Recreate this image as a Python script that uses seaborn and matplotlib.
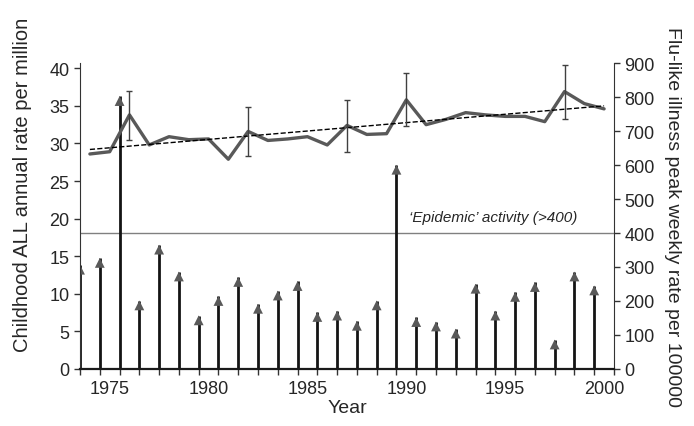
import numpy as np
import pandas as pd
import matplotlib
matplotlib.use("Agg")
import matplotlib.pyplot as plt
from matplotlib.transforms import offset_copy
import seaborn as sns

# --- data ---
years = list(range(1974, 2001))
all_rate = [28.6, 28.9, 33.8, 29.8, 30.9, 30.5, 30.6, 27.9, 31.6, 30.4,
            30.6, 30.9, 29.8, 32.4, 31.2, 31.3, 35.8, 32.5, 33.2, 34.1,
            33.8, 33.6, 33.6, 32.9, 36.9, 35.3, 34.6]

ci_years = [1976, 1982, 1987, 1990, 1998]
ci_low = [30.4, 28.3, 28.9, 32.3, 33.2]
ci_high = [37.0, 34.9, 35.8, 39.4, 40.5]

trend_years = [1974, 2000]
trend_rate = [29.2, 35.0]

# flu seasons sit between the year categories
flu_season = list(range(1973, 2000))
flu_peak = [306, 326, 802, 201, 365, 286, 157, 214, 270, 191,
            230, 258, 167, 171, 141, 201, 600, 152, 139, 118,
            250, 171, 226, 255, 86, 286, 245]

epidemic_level = 400

df_all = pd.DataFrame({"Year": years, "Rate": all_rate})
df_flu = pd.DataFrame({"Season": [s + 0.5 for s in flu_season], "Peak": flu_peak})
df_ci = pd.DataFrame({"Year": ci_years, "Low": ci_low, "High": ci_high})
df_trend = pd.DataFrame({"Year": trend_years, "Rate": trend_rate})

sns.set_style("ticks")
plt.rcParams['font.family'] = ['Liberation Sans', 'DejaVu Sans']

fig = plt.figure(figsize=(6.94, 4.27), dpi=100)
ax1 = fig.add_axes([0.1153, 0.1335, 0.7694, 0.7166])
ax2 = ax1.twinx()
ax1.set_zorder(ax2.get_zorder() + 1)
ax1.patch.set_visible(False)

# flu stems with arrow heads (right axis)
ax2.vlines(df_flu["Season"], 0, df_flu["Peak"], color="#141414", lw=2.0, zorder=2)
tip = offset_copy(ax2.transData, fig=fig, y=-3.4, units='points')
sns.scatterplot(data=df_flu, x="Season", y="Peak", ax=ax2, marker="^", s=50,
                color="#595959", edgecolor="none", transform=tip, zorder=3, legend=False)
ax2.axhline(epidemic_level, color="#808080", lw=1.0, zorder=1)
ax2.text(1994.4, 446, "\u2018Epidemic\u2019 activity (>400)", style="italic",
         fontsize=11, ha="center", va="center")

# ALL rate line (left axis)
sns.lineplot(data=df_all, x="Year", y="Rate", ax=ax1, color="#595959", lw=2.4, zorder=4)
sns.lineplot(data=df_trend, x="Year", y="Rate", ax=ax1, color="black", lw=1.0,
             dashes=(3, 2), linestyle="--", zorder=5)
ax1.errorbar(df_ci["Year"], (df_ci["Low"] + df_ci["High"]) / 2,
             yerr=[(df_ci["High"] - df_ci["Low"]) / 2, (df_ci["High"] - df_ci["Low"]) / 2],
             fmt="none", ecolor="#404040", elinewidth=1.0, capsize=2.5, capthick=1.0, zorder=6)

# axes
ax1.set_xlim(1973.5, 2000.5)
ax1.set_ylim(0, 40.7)
ax2.set_ylim(0, 900)
ax1.set_yticks(np.arange(0, 41, 5))
ax2.set_yticks(np.arange(0, 901, 100))
ax1.set_xticks(np.arange(1975, 2001, 5))
ax1.set_xticks(np.arange(1973.5, 2001, 1), minor=True)
ax1.tick_params(axis="x", which="major", length=0, labelsize=13, pad=8)
ax1.tick_params(axis="x", which="minor", length=4, width=1, color="#333333")
ax1.tick_params(axis="y", length=4, width=1, color="#333333", labelsize=13)
ax2.tick_params(axis="y", length=4, width=1, color="#333333", labelsize=13)

for ax in (ax1, ax2):
    ax.spines["top"].set_visible(False)
    for s in ax.spines.values():
        s.set_color("#333333")
ax1.spines["right"].set_visible(False)
ax2.spines["left"].set_visible(False)
ax2.spines["bottom"].set_visible(False)
ax1.spines["bottom"].set_linewidth(1.6)
ax1.spines["bottom"].set_color("#1a1a1a")

ax1.set_xlabel("Year", fontsize=14)
ax1.set_ylabel("Childhood ALL annual rate per million", fontsize=14.5)
ax2.set_ylabel("Flu-like illness peak weekly rate per 100000", fontsize=14, rotation=270)
ax1.xaxis.set_label_coords(0.5, -0.127)
ax1.yaxis.set_label_coords(-0.107, 0.605)
ax2.yaxis.set_label_coords(1.110, 0.5)
ax1.xaxis.label.set_va("center")
ax1.yaxis.label.set_va("center")
ax2.yaxis.label.set_va("center")

plt.savefig("out.png", dpi=100)
plt.close()
